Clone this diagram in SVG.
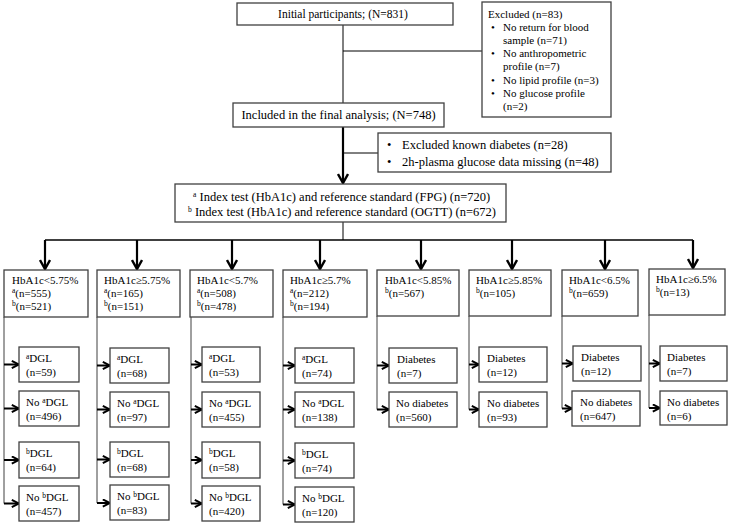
<svg xmlns="http://www.w3.org/2000/svg" width="731" height="524" viewBox="0 0 731 524">
<style>
text{font-family:"Liberation Serif","Times New Roman",serif;font-size:11px;fill:#000}
.big{font-size:12.5px}
.med{font-size:11.5px}
.box{fill:#fff;stroke:#404040;stroke-width:1.3}
.thin{fill:none;stroke:#000;stroke-width:1}
.trunk{fill:none;stroke:#404040;stroke-width:1}
.thick{fill:none;stroke:#000;stroke-width:2.2}
.sa{fill:none;stroke:#000;stroke-width:2}
.sup{font-size:7.5px}
.mid{text-anchor:middle}
</style>
<defs>
<marker id="ah" viewBox="0 0 12 12" refX="10" refY="6" markerWidth="12" markerHeight="12" markerUnits="userSpaceOnUse" orient="auto">
<path d="M1,1 L10,6 L1,11" fill="none" stroke="#000" stroke-width="2.4"/>
</marker>
<marker id="ahs" viewBox="0 0 10 10" refX="9" refY="5" markerWidth="9" markerHeight="9" markerUnits="userSpaceOnUse" orient="auto">
<path d="M1,1 L9,5 L1,9" fill="none" stroke="#000" stroke-width="2.2"/>
</marker>
</defs>

<g id="connectors">
<line class="thin" x1="343" y1="25" x2="343" y2="103"/>
<line class="thin" x1="343" y1="51" x2="482" y2="51"/>
<line class="thick" x1="343" y1="127" x2="343" y2="183" marker-end="url(#ah)"/>
<line class="thin" x1="343" y1="153" x2="378" y2="153"/>
<line class="thin" x1="343" y1="222" x2="343" y2="240"/>
<line class="thin" x1="45" y1="240" x2="693" y2="240" style="stroke-width:1.4"/>
<line class="thick" x1="45" y1="240" x2="45" y2="269" marker-end="url(#ah)"/>
<line class="thick" x1="137" y1="240" x2="137" y2="269" marker-end="url(#ah)"/>
<line class="thick" x1="232" y1="240" x2="232" y2="269" marker-end="url(#ah)"/>
<line class="thick" x1="320" y1="240" x2="320" y2="269" marker-end="url(#ah)"/>
<line class="thick" x1="421" y1="240" x2="421" y2="269" marker-end="url(#ah)"/>
<line class="thick" x1="512" y1="240" x2="512" y2="269" marker-end="url(#ah)"/>
<line class="thick" x1="605" y1="240" x2="605" y2="269" marker-end="url(#ah)"/>
<line class="thick" x1="693" y1="240" x2="693" y2="268" marker-end="url(#ah)"/>
<line class="trunk" x1="4" y1="317" x2="4" y2="503.5"/>
<line class="trunk" x1="97" y1="317" x2="97" y2="503"/>
<line class="trunk" x1="191" y1="317" x2="191" y2="503.5"/>
<line class="trunk" x1="283" y1="317" x2="283" y2="504.5"/>
<line class="trunk" x1="377" y1="316" x2="377" y2="409.5"/>
<line class="trunk" x1="469" y1="316" x2="469" y2="409.5"/>
<line class="trunk" x1="562" y1="316" x2="562" y2="408.5"/>
<line class="trunk" x1="649" y1="315" x2="649" y2="408"/>
<line class="sa" x1="4" y1="364.5" x2="19" y2="364.5" marker-end="url(#ahs)"/>
<line class="sa" x1="4" y1="408.5" x2="19" y2="408.5" marker-end="url(#ahs)"/>
<line class="sa" x1="4" y1="460" x2="19" y2="460" marker-end="url(#ahs)"/>
<line class="sa" x1="4" y1="503.5" x2="19" y2="503.5" marker-end="url(#ahs)"/>
<line class="sa" x1="97" y1="365.5" x2="110" y2="365.5" marker-end="url(#ahs)"/>
<line class="sa" x1="97" y1="409.5" x2="110" y2="409.5" marker-end="url(#ahs)"/>
<line class="sa" x1="97" y1="459.5" x2="110" y2="459.5" marker-end="url(#ahs)"/>
<line class="sa" x1="97" y1="503" x2="110" y2="503" marker-end="url(#ahs)"/>
<line class="sa" x1="191" y1="364.5" x2="202" y2="364.5" marker-end="url(#ahs)"/>
<line class="sa" x1="191" y1="409.5" x2="202" y2="409.5" marker-end="url(#ahs)"/>
<line class="sa" x1="191" y1="460" x2="202" y2="460" marker-end="url(#ahs)"/>
<line class="sa" x1="191" y1="503.5" x2="202" y2="503.5" marker-end="url(#ahs)"/>
<line class="sa" x1="283" y1="365.5" x2="295" y2="365.5" marker-end="url(#ahs)"/>
<line class="sa" x1="283" y1="409.5" x2="295" y2="409.5" marker-end="url(#ahs)"/>
<line class="sa" x1="283" y1="460.5" x2="295" y2="460.5" marker-end="url(#ahs)"/>
<line class="sa" x1="283" y1="504.5" x2="295" y2="504.5" marker-end="url(#ahs)"/>
<line class="sa" x1="377" y1="365.5" x2="389" y2="365.5" marker-end="url(#ahs)"/>
<line class="sa" x1="377" y1="409.5" x2="389" y2="409.5" marker-end="url(#ahs)"/>
<line class="sa" x1="469" y1="364.5" x2="479" y2="364.5" marker-end="url(#ahs)"/>
<line class="sa" x1="469" y1="409.5" x2="479" y2="409.5" marker-end="url(#ahs)"/>
<line class="sa" x1="562" y1="363.5" x2="573" y2="363.5" marker-end="url(#ahs)"/>
<line class="sa" x1="562" y1="408.5" x2="572" y2="408.5" marker-end="url(#ahs)"/>
<line class="sa" x1="649" y1="363.5" x2="660" y2="363.5" marker-end="url(#ahs)"/>
<line class="sa" x1="649" y1="408" x2="660" y2="408" marker-end="url(#ahs)"/>
</g>

<g id="n-initial"><rect class="box" x="237" y="3" width="216" height="22"/><text class="mid med" x="343" y="18">Initial participants; (N=831)</text></g>
<g id="n-excluded"><rect class="box" x="482" y="2" width="129" height="115"/>
<text x="488" y="18">Excluded (n=83)</text>
<text x="491" y="31">•</text><text x="503" y="31">No return for blood</text>
<text x="503" y="44">sample (n=71)</text>
<text x="491" y="57">•</text><text x="503" y="57">No anthropometric</text>
<text x="503" y="70">profile (n=7)</text>
<text x="491" y="84">•</text><text x="503" y="84">No lipid profile (n=3)</text>
<text x="491" y="97">•</text><text x="503" y="97">No glucose profile</text>
<text x="503" y="110">(n=2)</text>
</g>
<g id="n-included"><rect class="box" x="233" y="103" width="211" height="24"/><text class="mid big" x="338.5" y="119">Included in the final analysis; (N=748)</text></g>
<g id="n-excl2"><rect class="box" x="378" y="133" width="233" height="39"/>
<text class="big" x="387" y="149">•</text><text class="big" x="402" y="149">Excluded known diabetes (n=28)</text>
<text class="big" x="387" y="166">•</text><text class="big" x="402" y="166">2h-plasma glucose data missing (n=48)</text>
</g>
<g id="n-index"><rect class="box" x="175" y="184" width="331" height="38"/>
<text class="big" x="193" y="201"><tspan class="sup" dy="-4">a</tspan><tspan dy="4"> Index test (HbA1c) and reference standard (FPG) (n=720)</tspan></text>
<text class="big" x="188" y="216"><tspan class="sup" dy="-4">b</tspan><tspan dy="4"> Index test (HbA1c) and reference standard (OGTT) (n=672)</tspan></text>
</g>

<g id="h1"><rect class="box" x="4" y="270" width="84" height="47"/><text x="12" y="284">HbA1c&lt;5.75%</text><text x="12" y="297"><tspan class="sup" dy="-4">a</tspan><tspan dy="4">(n=555)</tspan></text><text x="12" y="310"><tspan class="sup" dy="-4">b</tspan><tspan dy="4">(n=521)</tspan></text></g>
<g id="h2"><rect class="box" x="97" y="270" width="83" height="47"/><text x="104" y="284">HbA1c≥5.75%</text><text x="104" y="297"><tspan class="sup" dy="-4">a</tspan><tspan dy="4">(n=165)</tspan></text><text x="104" y="310"><tspan class="sup" dy="-4">b</tspan><tspan dy="4">(n=151)</tspan></text></g>
<g id="h3"><rect class="box" x="190" y="270" width="83" height="47"/><text x="197" y="284">HbA1c&lt;5.7%</text><text x="197" y="297"><tspan class="sup" dy="-4">a</tspan><tspan dy="4">(n=508)</tspan></text><text x="197" y="310"><tspan class="sup" dy="-4">b</tspan><tspan dy="4">(n=478)</tspan></text></g>
<g id="h4"><rect class="box" x="283" y="270" width="84" height="47"/><text x="290" y="284">HbA1c≥5.7%</text><text x="290" y="297"><tspan class="sup" dy="-4">a</tspan><tspan dy="4">(n=212)</tspan></text><text x="290" y="310"><tspan class="sup" dy="-4">b</tspan><tspan dy="4">(n=194)</tspan></text></g>
<g id="h5"><rect class="box" x="377" y="270" width="82" height="46"/><text x="385" y="284">HbA1c&lt;5.85%</text><text x="385" y="297"><tspan class="sup" dy="-4">b</tspan><tspan dy="4">(n=567)</tspan></text></g>
<g id="h6"><rect class="box" x="469" y="270" width="82" height="46"/><text x="476" y="284">HbA1c≥5.85%</text><text x="476" y="297"><tspan class="sup" dy="-4">b</tspan><tspan dy="4">(n=105)</tspan></text></g>
<g id="h7"><rect class="box" x="562" y="270" width="76" height="46"/><text x="569" y="284">HbA1c&lt;6.5%</text><text x="569" y="297"><tspan class="sup" dy="-4">b</tspan><tspan dy="4">(n=659)</tspan></text></g>
<g id="h8"><rect class="box" x="649" y="269" width="76" height="46"/><text x="656" y="283">HbA1c≥6.5%</text><text x="656" y="296"><tspan class="sup" dy="-4">b</tspan><tspan dy="4">(n=13)</tspan></text></g>

<g id="c1a"><rect class="box" x="19" y="347" width="60" height="35"/><text x="26" y="362"><tspan class="sup" dy="-3">a</tspan><tspan dy="3">DGL</tspan></text><text x="26" y="376">(n=59)</text></g>
<g id="c1b"><rect class="box" x="19" y="391" width="60" height="35"/><text x="26" y="406">No <tspan class="sup" dy="-3">a</tspan><tspan dy="3">DGL</tspan></text><text x="26" y="420">(n=496)</text></g>
<g id="c1c"><rect class="box" x="19" y="442" width="60" height="36"/><text x="26" y="457"><tspan class="sup" dy="-3">b</tspan><tspan dy="3">DGL</tspan></text><text x="26" y="471">(n=64)</text></g>
<g id="c1d"><rect class="box" x="19" y="486" width="60" height="35"/><text x="26" y="501">No <tspan class="sup" dy="-3">b</tspan><tspan dy="3">DGL</tspan></text><text x="26" y="515">(n=457)</text></g>

<g id="c2a"><rect class="box" x="110" y="348" width="59" height="35"/><text x="117" y="363"><tspan class="sup" dy="-3">a</tspan><tspan dy="3">DGL</tspan></text><text x="117" y="377">(n=68)</text></g>
<g id="c2b"><rect class="box" x="110" y="392" width="59" height="35"/><text x="117" y="407">No <tspan class="sup" dy="-3">a</tspan><tspan dy="3">DGL</tspan></text><text x="117" y="421">(n=97)</text></g>
<g id="c2c"><rect class="box" x="110" y="442" width="59" height="35"/><text x="117" y="457"><tspan class="sup" dy="-3">b</tspan><tspan dy="3">DGL</tspan></text><text x="117" y="471">(n=68)</text></g>
<g id="c2d"><rect class="box" x="110" y="485" width="59" height="35"/><text x="117" y="500">No <tspan class="sup" dy="-3">b</tspan><tspan dy="3">DGL</tspan></text><text x="117" y="514">(n=83)</text></g>

<g id="c3a"><rect class="box" x="202" y="347" width="58" height="35"/><text x="209" y="362"><tspan class="sup" dy="-3">a</tspan><tspan dy="3">DGL</tspan></text><text x="209" y="376">(n=53)</text></g>
<g id="c3b"><rect class="box" x="202" y="392" width="58" height="35"/><text x="209" y="407">No <tspan class="sup" dy="-3">a</tspan><tspan dy="3">DGL</tspan></text><text x="209" y="421">(n=455)</text></g>
<g id="c3c"><rect class="box" x="202" y="442" width="58" height="36"/><text x="209" y="457"><tspan class="sup" dy="-3">b</tspan><tspan dy="3">DGL</tspan></text><text x="209" y="471">(n=58)</text></g>
<g id="c3d"><rect class="box" x="202" y="486" width="58" height="35"/><text x="209" y="501">No <tspan class="sup" dy="-3">b</tspan><tspan dy="3">DGL</tspan></text><text x="209" y="515">(n=420)</text></g>

<g id="c4a"><rect class="box" x="295" y="348" width="59" height="35"/><text x="302" y="363"><tspan class="sup" dy="-3">a</tspan><tspan dy="3">DGL</tspan></text><text x="302" y="377">(n=74)</text></g>
<g id="c4b"><rect class="box" x="295" y="392" width="59" height="35"/><text x="302" y="407">No <tspan class="sup" dy="-3">a</tspan><tspan dy="3">DGL</tspan></text><text x="302" y="421">(n=138)</text></g>
<g id="c4c"><rect class="box" x="295" y="443" width="59" height="35"/><text x="302" y="458"><tspan class="sup" dy="-3">b</tspan><tspan dy="3">DGL</tspan></text><text x="302" y="472">(n=74)</text></g>
<g id="c4d"><rect class="box" x="295" y="487" width="59" height="35"/><text x="302" y="502">No <tspan class="sup" dy="-3">b</tspan><tspan dy="3">DGL</tspan></text><text x="302" y="516">(n=120)</text></g>

<g id="c5a"><rect class="box" x="389" y="348" width="68" height="35"/><text x="397" y="363">Diabetes</text><text x="397" y="377">(n=7)</text></g>
<g id="c5b"><rect class="box" x="389" y="392" width="68" height="35"/><text x="396" y="407">No diabetes</text><text x="396" y="421">(n=560)</text></g>
<g id="c6a"><rect class="box" x="479" y="347" width="68" height="35"/><text x="487" y="362">Diabetes</text><text x="487" y="376">(n=12)</text></g>
<g id="c6b"><rect class="box" x="479" y="392" width="68" height="35"/><text x="487" y="407">No diabetes</text><text x="487" y="421">(n=93)</text></g>
<g id="c7a"><rect class="box" x="573" y="346" width="68" height="35"/><text x="581" y="361">Diabetes</text><text x="581" y="375">(n=12)</text></g>
<g id="c7b"><rect class="box" x="572" y="391" width="68" height="35"/><text x="580" y="406">No diabetes</text><text x="580" y="420">(n=647)</text></g>
<g id="c8a"><rect class="box" x="660" y="346" width="67" height="35"/><text x="667" y="361">Diabetes</text><text x="667" y="375">(n=7)</text></g>
<g id="c8b"><rect class="box" x="660" y="391" width="67" height="34"/><text x="667" y="406">No diabetes</text><text x="667" y="420">(n=6)</text></g>
</svg>
